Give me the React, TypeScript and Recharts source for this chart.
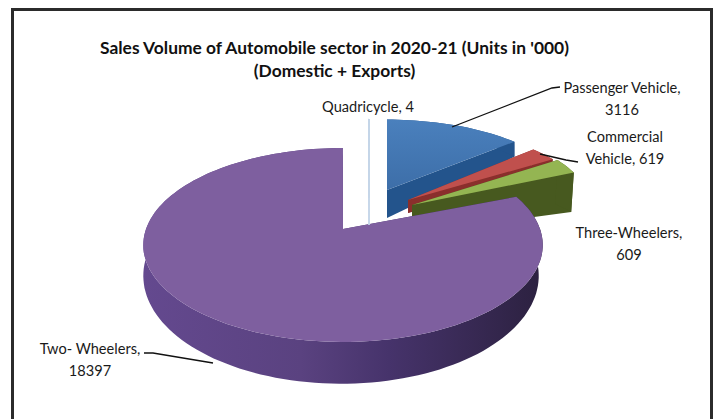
import { PieChart, Pie } from "recharts";

const CATEGORIES = ["Passenger Vehicle", "Commercial Vehicle", "Three-Wheelers", "Two- Wheelers", "Quadricycle"];
const UNITS = [3116, 619, 609, 18397, 4];
const TITLE_LINES = ["Sales Volume of Automobile sector in 2020-21 (Units in '000)", "(Domestic + Exports)"];

const chartData = CATEGORIES.map((name, i) => ({ name, value: UNITS[i] }));

// perspective strength of the tilted disc
const TILT = 0.165;
const FONT = "Lato, Carlito, sans-serif";

// slice offsets from the pie centre and ring sizes for the top face and the bottom edge
const WEDGES: Record<string, any> = {
  "Passenger Vehicle": { dx: 44, dy: -39, a: 186, b: 82, drop: 28, botDx: 0, botA: 186, botB: 104, top: "url(#blueTop)", wall: "#23548c" },
  "Commercial Vehicle": { dx: 65, dy: -29, a: 183, b: 86, drop: 13, botDx: 0, botA: 180, botB: 80, top: "#c0504d", wall: "#8a2f2c" },
  "Three-Wheelers": { dx: 69, dy: -24, a: 184, b: 95, drop: 28, botDx: 0, botA: 181, botB: 61, top: "#94b552", wall: "#47591f" },
  "Two- Wheelers": { dx: 0, dy: 0, a: 197, b: 94.3, drop: 29, botDx: -2, botA: 195, botB: 105, top: "#7e5f9f", wall: "url(#purpleWall)" },
  Quadricycle: { dx: 26, dy: -31, a: 190, b: 92, drop: 27, botDx: 0, botA: 190, botB: 92, top: "#dfe9f4", wall: "#c4d5e8" },
};

const LABELS: Record<string, any> = {
  "Passenger Vehicle": { lines: ["Passenger Vehicle,", "3116"], x: 622, y: 93, line: [[452, 127], [552, 88], [560, 87]] },
  "Commercial Vehicle": { lines: ["Commercial", "Vehicle, 619"], x: 625, y: 142, line: [[540, 154], [566, 160], [578, 162]] },
  "Three-Wheelers": { lines: ["Three-Wheelers,", "609"], x: 629, y: 238, line: [] },
  "Two- Wheelers": { lines: ["Two- Wheelers,", "18397"], x: 90, y: 354, line: [[144, 353], [153, 353], [213, 363]] },
  Quadricycle: { lines: ["Quadricycle, 4"], x: 368, y: 112, line: [] },
};

const project = (deg: number, ax: number, ay: number, a: number, b: number) => {
  const t = (deg * Math.PI) / 180;
  const u = Math.sin(t);
  const v = -Math.cos(t);
  const d = 1 - TILT * v;
  return [ax + (a * u) / d, ay + (b * v) / d];
};

const arcPoints = (from: number, to: number, ax: number, ay: number, a: number, b: number) => {
  const steps = Math.max(1, Math.ceil((to - from) / 2));
  const pts = [];
  for (let i = 0; i <= steps; i++) pts.push(project(from + ((to - from) * i) / steps, ax, ay, a, b));
  return pts;
};

const toPath = (pts: number[][]) => "M" + pts.map((p) => `${p[0].toFixed(1)},${p[1].toFixed(1)}`).join("L") + "Z";

// draws one slice as a tilted wedge: walls first, then the top face
const Wedge3D = (props: any) => {
  const { cx, cy, startAngle, endAngle, name } = props;
  const w = WEDGES[name];
  if (!w) return null;
  const from = 90 - startAngle;
  const to = 90 - endAngle;
  const ax = cx + w.dx;
  const ay = cy + w.dy;
  const top = arcPoints(from, to, ax, ay, w.a, w.b);
  const bottom = arcPoints(from, to, ax + w.botDx, ay + w.drop, w.botA, w.botB);
  const apexTop = [ax, ay];
  const apexBottom = [ax + w.botDx, ay + w.drop];
  const outer = [...top, ...[...bottom].reverse()];
  const cutStart = [apexTop, top[0], bottom[0], apexBottom];
  const cutEnd = [apexTop, top[top.length - 1], bottom[bottom.length - 1], apexBottom];
  const thin = name === "Quadricycle";
  return (
    <g>
      <path d={toPath(cutStart)} fill={w.wall} stroke={thin ? w.wall : "none"} />
      <path d={toPath(cutEnd)} fill={w.wall} stroke={thin ? w.wall : "none"} />
      <path d={toPath(outer)} fill={w.wall} stroke={thin ? w.wall : "none"} />
      <path d={toPath([apexTop, ...top])} fill={w.top} stroke={thin ? w.wall : "none"} />
    </g>
  );
};

const renderLabel = (props: any) => {
  const l = LABELS[props.name];
  return (
    <text x={l.x} y={l.y} textAnchor="middle" fontFamily={FONT} fontSize={14.6} fill="#1a1a1a">
      {l.lines.map((t: string, i: number) => (
        <tspan key={t} x={l.x} dy={i === 0 ? 0 : 22}>
          {t}
        </tspan>
      ))}
    </text>
  );
};

const renderLeader = (props: any) => {
  const l = LABELS[props.name];
  if (!l.line.length) return <g />;
  return <polyline points={l.line.map((p: number[]) => p.join(",")).join(" ")} fill="none" stroke="#111" strokeWidth={1.3} />;
};

export default function App() {
  return (
    <div style={{ position: "absolute", left: 0, top: 0, width: 713, height: 419, background: "#fff", overflow: "hidden" }}>
      <div
        style={{
          position: "absolute",
          left: 11,
          top: 8,
          width: 696,
          height: 440,
          border: "3px solid #2b2b2b",
          boxSizing: "content-box",
        }}
      />
      <div style={{ position: "absolute", left: 0, top: 0 }}>
        <PieChart width={713} height={419} margin={{ top: 0, right: 0, bottom: 0, left: 0 }}>
          <defs>
            <linearGradient id="purpleWall" gradientUnits="userSpaceOnUse" x1={141} y1={0} x2={541} y2={0}>
              <stop offset="0" stopColor="#64498f" />
              <stop offset="0.4" stopColor="#5a4280" />
              <stop offset="0.62" stopColor="#46336b" />
              <stop offset="1" stopColor="#2c2140" />
            </linearGradient>
            <linearGradient id="blueTop" x1="0" y1="0" x2="0" y2="1">
              <stop offset="0" stopColor="#4a80bd" />
              <stop offset="1" stopColor="#3d6ea8" />
            </linearGradient>
          </defs>
          <text x={334.5} y={54} textAnchor="middle" fontFamily={FONT} fontSize={17.4} fontWeight={700} fill="#111">
            {TITLE_LINES[0]}
          </text>
          <text x={334.5} y={77} textAnchor="middle" fontFamily={FONT} fontSize={17.4} fontWeight={700} fill="#111">
            {TITLE_LINES[1]}
          </text>
          <Pie
            data={chartData}
            dataKey="value"
            nameKey="name"
            cx={343}
            cy={229}
            outerRadius={197}
            startAngle={90}
            endAngle={-270}
            paddingAngle={0}
            isAnimationActive={false}
            shape={Wedge3D}
            label={renderLabel}
            labelLine={renderLeader}
          />
        </PieChart>
      </div>
    </div>
  );
}
